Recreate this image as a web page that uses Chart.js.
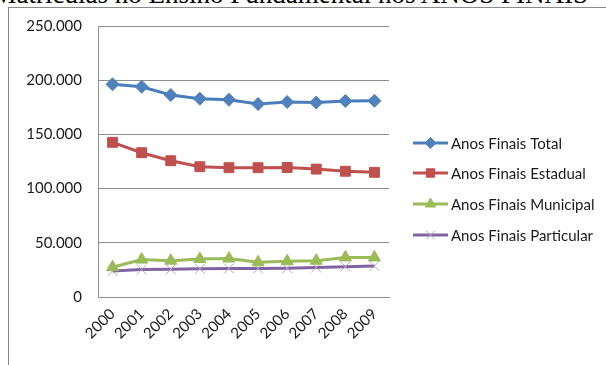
<!DOCTYPE html>
<html>
<head>
<meta charset="utf-8">
<script src="https://cdn.jsdelivr.net/npm/chart.js@4"></script>
<style>
  html, body { margin: 0; padding: 0; background: #fff; overflow: hidden; }
  body { width: 606px; height: 365px; position: relative; }
  #heading {
    position: absolute; right: 18px; top: -19px; white-space: nowrap;
    font: 27px "Liberation Serif", "Times New Roman", serif; line-height: 27px; color: #000;
  }
  #frame {
    position: absolute; left: 8px; top: 7px; width: 700px; height: 500px;
    border-left: 1px solid #8a8a8a; border-top: 1px solid #8a8a8a;
  }
  #wrap { position: absolute; left: 0; top: 0; width: 606px; height: 365px; }
</style>
</head>
<body>
<div id="heading">Matrículas no Ensino Fundamental nos ANOS FINAIS</div>
<div id="frame"></div>
<div id="wrap"><canvas id="chart" width="606" height="365"></canvas></div>
<script>
// Anos finais do ensino fundamental: matrículas por rede, 2000–2009
const years = ['2000', '2001', '2002', '2003', '2004', '2005', '2006', '2007', '2008', '2009'];
const total = [196200, 194000, 186300, 182900, 182000, 178000, 179900, 179400, 180800, 181000];
const estadual = [142700, 133100, 125700, 120200, 119300, 119300, 119500, 118000, 116000, 115000];
const municipal = [27500, 34500, 33500, 35000, 35500, 32000, 33000, 33500, 36500, 36500];
const particular = [24000, 25300, 25500, 26000, 26300, 26300, 26500, 27200, 28000, 28600];
const yTicks = [0, 50000, 100000, 150000, 200000, 250000];

const FONT = 'Lato, "Liberation Sans", sans-serif';

function fmt(v) {
  return v === 0 ? '0' : v.toLocaleString('pt-BR');
}

const series = [
  { label: 'Anos Finais Total', data: total, color: '#4A7EBB', point: '#4F81BD', style: 'rectRot', radius: 6.5, pbw: 1 },
  { label: 'Anos Finais Estadual', data: estadual, color: '#C0504D', point: '#C0504D', style: 'rect', radius: 7, pbw: 1 },
  { label: 'Anos Finais Municipal', data: municipal, color: '#9BBB59', point: '#9BBB59', style: 'triangle', radius: 7, pbw: 1 },
  { label: 'Anos Finais Particular', data: particular, color: '#8064A2', point: '#B3A2C7', style: 'crossRot', radius: 7, pbw: 1 }
];

// Legend on the right: short line with the series marker in the middle
const sideLegend = {
  id: 'sideLegend',
  afterDraw(chart) {
    const ctx = chart.ctx;
    const rows = [143, 173, 204, 235];
    ctx.save();
    chart.data.datasets.forEach((ds, i) => {
      const y = rows[i];
      ctx.strokeStyle = ds.borderColor;
      ctx.lineWidth = 3;
      ctx.beginPath();
      ctx.moveTo(413, y);
      ctx.lineTo(448, y);
      ctx.stroke();
      ctx.fillStyle = ds.pointBackgroundColor;
      ctx.strokeStyle = ds.pointBorderColor;
      ctx.lineWidth = ds.pointBorderWidth;
      Chart.helpers.drawPoint(ctx, {
        pointStyle: ds.pointStyle, radius: ds.pointRadius * 0.85, rotation: 0, borderWidth: ds.pointBorderWidth
      }, 430.5, y);
      ctx.fillStyle = '#1a1a1a';
      ctx.font = '15px ' + FONT;
      ctx.textBaseline = 'middle';
      ctx.textAlign = 'left';
      ctx.fillText(ds.label, 451, y + 1);
    });
    ctx.restore();
  }
};

new Chart(document.getElementById('chart'), {
  type: 'line',
  data: {
    labels: years,
    datasets: series.map(s => ({
      label: s.label,
      data: s.data,
      borderColor: s.color,
      backgroundColor: s.color,
      borderWidth: 3,
      pointStyle: s.style,
      pointRadius: s.radius,
      pointBackgroundColor: s.point,
      pointBorderColor: s.point,
      pointBorderWidth: s.pbw,
      tension: 0,
      fill: false
    }))
  },
  options: {
    responsive: false,
    animation: false,
    layout: { padding: { left: 0, top: 26, right: 217, bottom: 0 } },
    plugins: { legend: { display: false }, tooltip: { enabled: false } },
    scales: {
      x: {
        offset: true,
        afterFit(scale) { scale.height = 68; },
        grid: { display: false, drawTicks: false },
        border: { display: true, color: '#8e8e8e', width: 1 },
        ticks: {
          autoSkip: false, maxRotation: 45, minRotation: 45, padding: 8,
          color: '#1a1a1a', font: { family: FONT, size: 15 }
        }
      },
      y: {
        min: 0, max: 250000,
        afterFit(scale) { scale.width = 98; },
        afterBuildTicks(scale) { scale.ticks = yTicks.map(v => ({ value: v })); },
        grid: { color: '#8e8e8e', lineWidth: 1, drawTicks: false },
        border: { display: true, color: '#8e8e8e', width: 1 },
        ticks: {
          padding: 16, color: '#1a1a1a', font: { family: FONT, size: 15 },
          callback: v => fmt(v)
        }
      }
    }
  },
  plugins: [sideLegend]
});
</script>
</body>
</html>
